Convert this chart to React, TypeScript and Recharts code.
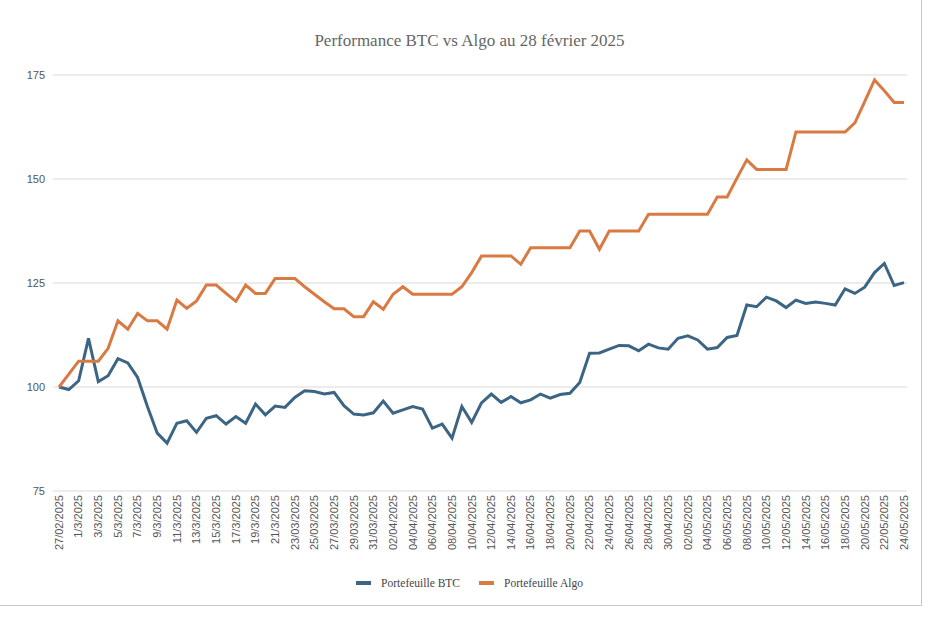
import { LineChart, Line, XAxis, YAxis, CartesianGrid, Legend } from "recharts";

const BTC_COLOR = "#3C6584";
const ALGO_COLOR = "#D97A42";

// dates (un label sur deux est affiché)
const DATES = [
  "27/02/2025", "28/02/2025",
  "1/3/2025", "2/3/2025", "3/3/2025", "4/3/2025", "5/3/2025", "6/3/2025", "7/3/2025", "8/3/2025",
  "9/3/2025", "10/3/2025", "11/3/2025", "12/3/2025", "13/3/2025", "14/3/2025", "15/3/2025", "16/3/2025",
  "17/3/2025", "18/3/2025", "19/3/2025", "20/3/2025", "21/3/2025", "22/3/2025",
  "23/03/2025", "24/03/2025", "25/03/2025", "26/03/2025", "27/03/2025", "28/03/2025", "29/03/2025",
  "30/03/2025", "31/03/2025",
  "01/04/2025", "02/04/2025", "03/04/2025", "04/04/2025", "05/04/2025", "06/04/2025", "07/04/2025",
  "08/04/2025", "09/04/2025", "10/04/2025", "11/04/2025", "12/04/2025", "13/04/2025", "14/04/2025",
  "15/04/2025", "16/04/2025", "17/04/2025", "18/04/2025", "19/04/2025", "20/04/2025", "21/04/2025",
  "22/04/2025", "23/04/2025", "24/04/2025", "25/04/2025", "26/04/2025", "27/04/2025", "28/04/2025",
  "29/04/2025", "30/04/2025",
  "01/05/2025", "02/05/2025", "03/05/2025", "04/05/2025", "05/05/2025", "06/05/2025", "07/05/2025",
  "08/05/2025", "09/05/2025", "10/05/2025", "11/05/2025", "12/05/2025", "13/05/2025", "14/05/2025",
  "15/05/2025", "16/05/2025", "17/05/2025", "18/05/2025", "19/05/2025", "20/05/2025", "21/05/2025",
  "22/05/2025", "23/05/2025", "24/05/2025",
];

const BTC = [
  100, 99.4, 101.5, 111.7, 101.3, 102.7, 106.8, 105.8, 102.3, 95.3,
  88.9, 86.5, 91.3, 91.9, 89.1, 92.5, 93.1, 91.1, 92.9, 91.3,
  95.9, 93.3, 95.4, 95.1, 97.5, 99.1, 98.9, 98.3, 98.7, 95.5,
  93.5, 93.3, 93.8, 96.6, 93.7, 94.5, 95.3, 94.7, 90.1, 91.1,
  87.7, 95.3, 91.5, 96.2, 98.3, 96.3, 97.7, 96.2, 96.9, 98.3,
  97.3, 98.2, 98.5, 101.1, 108.1, 108.2, 109.1, 110.0, 109.9, 108.7,
  110.3, 109.4, 109.1, 111.7, 112.3, 111.3, 109.1, 109.5, 111.9, 112.4,
  119.7, 119.3, 121.6, 120.7, 119.1, 120.9, 120.1, 120.4, 120.1, 119.7,
  123.6, 122.5, 124.0, 127.5, 129.7, 124.4, 125.1,
];

const ALGO = [
  100, 103.1, 106.2, 106.2, 106.2, 109.3, 115.9, 113.9, 117.7, 115.9,
  115.9, 113.9, 120.9, 118.9, 120.7, 124.5, 124.5, 122.5, 120.6, 124.5,
  122.5, 122.5, 126.1, 126.1, 126.1, 124.1, 122.3, 120.5, 118.8, 118.8,
  116.9, 116.9, 120.5, 118.7, 122.3, 124.1, 122.3, 122.3, 122.3, 122.3,
  122.3, 124.1, 127.5, 131.5, 131.5, 131.5, 131.5, 129.5, 133.5, 133.5,
  133.5, 133.5, 133.5, 137.5, 137.5, 133.1, 137.5, 137.5, 137.5, 137.5,
  141.5, 141.5, 141.5, 141.5, 141.5, 141.5, 141.5, 145.7, 145.7, 150.2,
  154.6, 152.3, 152.3, 152.3, 152.3, 161.3, 161.3, 161.3, 161.3, 161.3,
  161.3, 163.5, 168.6, 173.8, 171.2, 168.4, 168.4,
];

const Y_TICKS = [75, 100, 125, 150, 175];

const data = DATES.map((d, i) => ({ date: d, btc: BTC[i], algo: ALGO[i] }));

const TICK_FONT = "'Liberation Sans', Arial, sans-serif";

function DateTick({ x, y, payload }: { x?: number; y?: number; payload?: { value: string } }) {
  return (
    <text
      x={x}
      y={y}
      transform={`rotate(-90 ${x} ${y})`}
      textAnchor="end"
      dy="0.35em"
      fontSize={11}
      fontFamily={TICK_FONT}
      fill="#555"
    >
      {payload?.value}
    </text>
  );
}

function LegendContent() {
  const items = [
    { name: "Portefeuille BTC", color: BTC_COLOR },
    { name: "Portefeuille Algo", color: ALGO_COLOR },
  ];
  return (
    <div style={{ display: "flex", justifyContent: "center", gap: 19, paddingTop: 14, fontFamily: "'Liberation Serif', 'Times New Roman', serif", fontSize: 11.5, color: "#444", lineHeight: "16px" }}>
      {items.map((it) => (
        <div key={it.name} style={{ display: "flex", alignItems: "center" }}>
          <span style={{ display: "inline-block", width: 15, height: 4, background: it.color, marginRight: 10 }} />
          <span>{it.name}</span>
        </div>
      ))}
    </div>
  );
}

export default function App() {
  return (
    <div style={{ position: "absolute", left: 0, top: 0, width: 939, height: 619, background: "#fff" }}>
      <div style={{ position: "absolute", left: 0, top: 0, width: 921, height: 605, borderRight: "1px solid #c8c8c8", borderBottom: "1px solid #c8c8c8" }} />
      <div style={{ position: "absolute", left: 0, top: 31, width: 939, textAlign: "center", fontFamily: "'Liberation Serif', 'Times New Roman', serif", fontSize: 17, color: "#666" }}>
        Performance BTC vs Algo au 28 février 2025
      </div>
      <div style={{ position: "absolute", left: 0, top: 0 }}>
        <LineChart width={939} height={619} data={data} margin={{ top: 75, right: 32, left: 0, bottom: 28 }}>
          <CartesianGrid vertical={false} stroke="#d9d9d9" />
          <XAxis
            dataKey="date"
            interval={1}
            tick={<DateTick />}
            tickLine={false}
            axisLine={false}
            tickSize={0}
            tickMargin={4}
            height={70}
            padding={{ left: 6, right: 3 }}
          />
          <YAxis
            domain={[75, 175]}
            ticks={Y_TICKS}
            width={53}
            tickLine={false}
            axisLine={false}
            tickSize={0}
            tickMargin={8}
            tick={{ fontSize: 11, fill: "#555", fontFamily: TICK_FONT }}
          />
          <Legend verticalAlign="bottom" height={30} width={939} wrapperStyle={{ left: 0, width: 939 }} content={<LegendContent />} />
          <Line type="linear" dataKey="btc" name="Portefeuille BTC" stroke={BTC_COLOR} strokeWidth={3} dot={false} isAnimationActive={false} />
          <Line type="linear" dataKey="algo" name="Portefeuille Algo" stroke={ALGO_COLOR} strokeWidth={3} dot={false} isAnimationActive={false} />
        </LineChart>
      </div>
    </div>
  );
}
